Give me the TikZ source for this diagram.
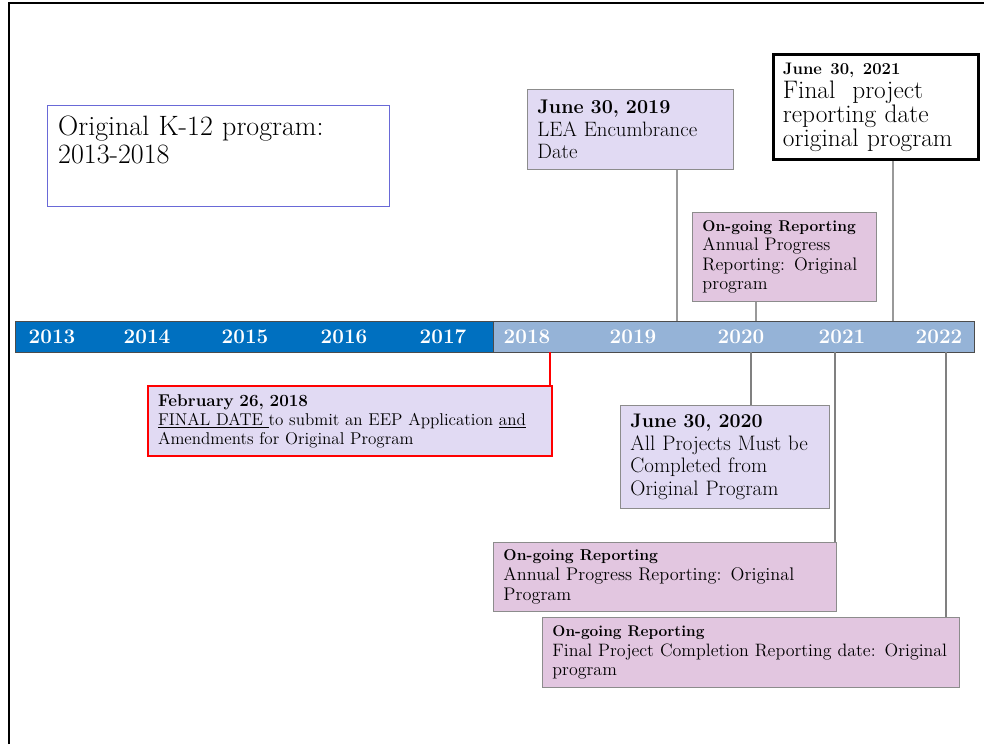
\documentclass[tikz,border=0pt]{standalone}
\usetikzlibrary{positioning}

\definecolor{pastblue}{RGB}{0,112,192}
\definecolor{futureblue}{RGB}{149,179,215}
\definecolor{lavender}{RGB}{225,218,243}
\definecolor{mauve}{RGB}{226,198,224}
\definecolor{boxgray}{RGB}{140,140,140}
\definecolor{linkgray}{RGB}{128,128,128}
\definecolor{k12blue}{RGB}{105,105,215}

% bold first line of a box, own size
\newcommand{\headline}[2]{{\fontsize{#1}{#1}\selectfont\bfseries #2}}

\tikzset{
  bar/.style={draw=black!70, line width=0.6pt, anchor=north west, minimum height=23.25pt, inner sep=0pt},
  year/.style={text=white, font=\fontsize{15.5}{16}\selectfont\bfseries},
  datebox/.style={draw=boxgray, line width=0.7pt, fill=lavender, anchor=north west, align=left, inner sep=0pt, inner xsep=7.5pt},
  reportbox/.style={datebox, fill=mauve},
  link/.style={draw=linkgray, line width=1.6pt},
  uplink/.style={draw=black!40, line width=1.6pt}
}

\begin{document}
\begin{tikzpicture}[x=0.75pt,y=-0.75pt]
  \useasboundingbox (0,0) rectangle (984,744);
  % frame, cut at right and bottom
  \draw[line width=2pt] (9,744) -- (9,3) -- (984,3);

  % the time line
  \node[bar, fill=pastblue, minimum width=358.5pt] (past) at (15,321) {};
  \node[bar, fill=futureblue, minimum width=360.75pt] (future) at (493,321) {};
  \foreach \yr/\xx in {2013/52,2014/147,2015/245,2016/344,2017/443,2018/527,2019/633,2020/741,2021/842,2022/939}
    \node[year] (y\yr) at (\xx,337) {\yr};

  \coordinate (c19) at (677,321);
  \coordinate (c20) at (756,321);
  \coordinate (c21) at (893,321);
  \coordinate (d18) at (550,352);
  \coordinate (d20) at (751,352);
  \coordinate (d21) at (835,352);
  \coordinate (d22) at (946,352);

  % boxes above the line
  \node[draw=k12blue, line width=0.8pt, anchor=north west, align=left, inner sep=0pt, inner xsep=8pt, inner ysep=8pt,
        text width=240.5pt, font=\fontsize{21}{21}\selectfont] (k12) at (47,105)
    {Original K-12 program:\\2013-2018\rule[-24pt]{0pt}{0pt}};

  \node[datebox, text width=139.5pt, minimum height=60pt, font=\fontsize{15.6}{17}\selectfont] (enc) at (527,89)
    {\headline{14.8}{June 30, 2019}\\LEA Encumbrance\\Date};

  \node[draw=black, line width=2.4pt, fill=white, anchor=north west, align=left, inner sep=0pt, inner xsep=7pt,
        text width=139.75pt, minimum height=78.75pt, font=\fontsize{19}{18}\selectfont] (fin) at (772,53)
    {\headline{12.5}{June 30, 2021}\\Final\ \ project\\reporting date\\original program};

  \node[reportbox, text width=123pt, minimum height=66.75pt, font=\fontsize{13.6}{14.4}\selectfont] (ong1) at (692,212)
    {\headline{11.7}{On-going Reporting}\\Annual Progress\\Reporting: Original\\program};

  \draw[uplink] (enc.south -| c19) -- (c19);
  \draw[uplink] (fin.south -| c21) -- (c21);
  \draw[uplink] (ong1.south -| c20) -- (c20);

  % boxes below the line
  \node[datebox, draw=red, line width=1.5pt, text width=288pt, minimum height=52.5pt, font=\fontsize{12.8}{14.3}\selectfont] (feb) at (147,385)
    {\headline{12.8}{February 26, 2018}\\\underline{FINAL DATE\ }to submit an EEP Application \underline{and}\\Amendments for Original Program};

  \node[datebox, text width=141.75pt, minimum height=77.25pt, font=\fontsize{15.7}{17}\selectfont] (jun) at (620,405)
    {\headline{14.7}{June 30, 2020}\\All Projects Must be\\Completed from\\Original Program};

  \node[reportbox, text width=242.25pt, minimum height=51.75pt, font=\fontsize{13.7}{14.8}\selectfont] (ong2) at (493,542)
    {\headline{11.8}{On-going Reporting}\\Annual Progress Reporting: Original\\Program};

  \node[reportbox, text width=297.75pt, minimum height=52.5pt, font=\fontsize{13.45}{14.6}\selectfont] (ong3) at (542,617)
    {\headline{11.6}{On-going Reporting}\\Final Project Completion Reporting date: Original\\program};

  \draw[link, draw=red, line width=2pt] (d18) -- (feb.north -| d18);
  \draw[link] (d20) -- (jun.north -| d20);
  \draw[link] (d21) -- (ong2.north -| d21);
  \draw[link] (d22) -- (ong3.north -| d22);
\end{tikzpicture}
\end{document}
